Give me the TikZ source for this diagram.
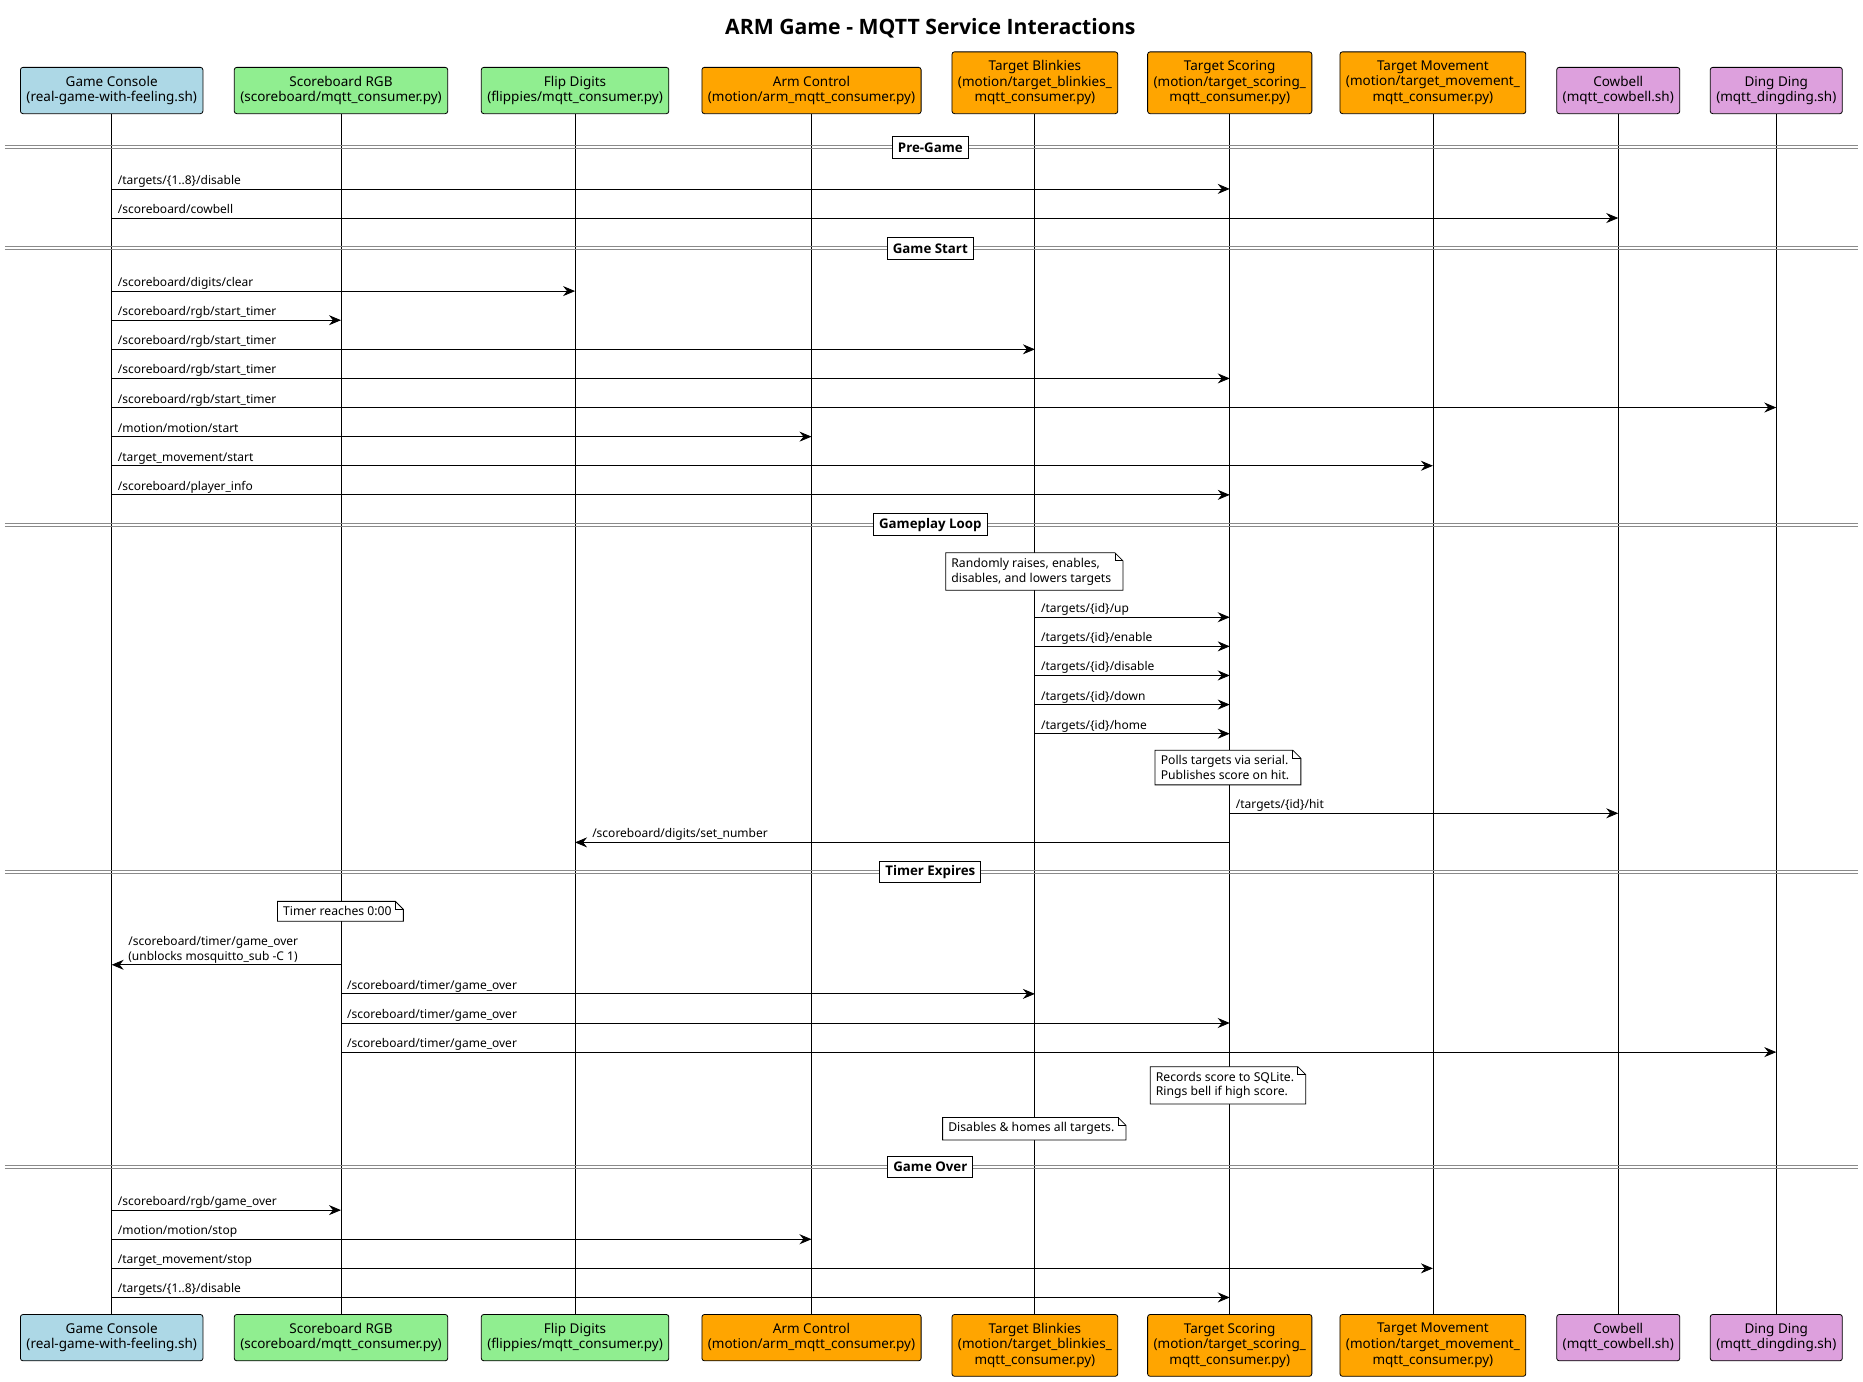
\documentclass[tikz,border=0pt]{standalone}
\usepackage{fontspec}
\setmainfont{Noto Sans}[Ligatures=NoCommon]
\newfontfamily\boldsans{Open Sans}[Ligatures=NoCommon]
\usetikzlibrary{arrows.meta}
\pgfdeclarelayer{bgfill}
\pgfdeclarelayer{back}
\pgfdeclarelayer{notes}
\pgfsetlayers{bgfill,back,notes,main}
\definecolor{cBlue}{HTML}{ADD8E6}
\definecolor{cGreen}{HTML}{90EE90}
\definecolor{cOrange}{HTML}{FFA500}
\definecolor{cPlum}{HTML}{DDA0DD}
\definecolor{cDiv}{HTML}{8A8A8A}
\newcommand\msgR[4]{%
  \draw[msg] (#1 |- 0,#3) -- (#2 |- 0,#3);
  \node[lbl, xshift=6pt, yshift=4.5pt] at (#1 |- 0,#3) {#4};}
\newcommand\msgL[4]{%
  \draw[msg] (#1 |- 0,#3) -- (#2 |- 0,#3);
  \node[lbl, xshift=17pt, yshift=4.5pt] at (#2 |- 0,#3) {#4};}
\newcommand\divider[3]{%
  \begin{pgfonlayer}{back}
  \draw[divline] (4,{#2-1.25}) -- (1564,{#2-1.25});
  \draw[divline] (4,{#2+1.25}) -- (1564,{#2+1.25});
  \end{pgfonlayer}
  \node[divlbl] (#1) at (783,#2) {#3};}
\newcommand\mknote[4]{%
  \node[notebox] (#1) at (#2,#3) {#4};
  \begin{pgfonlayer}{notes}
  \filldraw[thinl, fill=white] (#1.south west) -- (#1.north west) -- ([xshift=-2pt]#1.north east)
    -- ([xshift=6pt,yshift=-8pt]#1.north east) -- ([xshift=6pt]#1.south east) -- cycle;
  \draw[thinl] ([xshift=-2pt]#1.north east) -- ([xshift=-2pt,yshift=-8pt]#1.north east)
    -- ([xshift=6pt,yshift=-8pt]#1.north east);
  \end{pgfonlayer}}
\begin{document}
\begin{tikzpicture}[x=1.1881pt,y=-1.1881pt,
  part/.style={draw=black, line width=0.8pt, rounded corners=2.5pt, align=center,
    font=\fontsize{13.5}{15.6}\selectfont, inner xsep=6pt, inner ysep=0pt,
    execute at begin node={\rule{0pt}{13.2pt}}},
  part2/.style={part, minimum height=46.3pt},
  part3/.style={part, minimum height=61.8pt},
  life/.style={line width=0.8pt},
  thinl/.style={line width=0.8pt},
  msg/.style={line width=0.8pt, -{Stealth[length=12pt,width=10pt,inset=4pt]}},
  lbl/.style={font=\fontsize{12}{14.4}\selectfont, inner sep=0pt, anchor=base west},
  divline/.style={cDiv, line width=0.9pt},
  divlbl/.style={draw=black, fill=white, line width=0.8pt, font=\boldsans\bfseries\fontsize{13.3}{15}\selectfont,
    inner xsep=5.5pt, inner ysep=0pt, minimum height=21.5pt},
  notebox/.style={align=left, font=\fontsize{12.2}{14.8}\selectfont,
    inner xsep=5.5pt, inner ysep=5pt}]
\useasboundingbox (0,0) rectangle (1568,1163);
\begin{pgfonlayer}{bgfill}
\fill[white] (0,0) rectangle (1568,1163);
\end{pgfonlayer}

\node[font=\boldsans\bfseries\fontsize{21.2}{24}\selectfont] (title) at (783,23.5) {ARM Game - MQTT Service Interactions};

% top participants
\node[part2, fill=cBlue, anchor=south] (gcT) at (94,96) {Game Console\\(real-game-with-feeling.sh)};
\node[part2, fill=cGreen, anchor=south] (rgbT) at (287,96) {Scoreboard RGB\\(scoreboard/mqtt\_consumer.py)};
\node[part2, fill=cGreen, anchor=south] (fdT) at (484,96) {Flip Digits\\(flippies/mqtt\_consumer.py)};
\node[part2, fill=cOrange, anchor=south] (acT) at (683,96) {Arm Control\\(motion/arm\_mqtt\_consumer.py)};
\node[part3, fill=cOrange, anchor=south] (tbT) at (871,96) {Target Blinkies\\(motion/target\_blinkies\_\\mqtt\_consumer.py)};
\node[part3, fill=cOrange, anchor=south] (tsT) at (1035,96) {Target Scoring\\(motion/target\_scoring\_\\mqtt\_consumer.py)};
\node[part3, fill=cOrange, anchor=south] (tmT) at (1206,96) {Target Movement\\(motion/target\_movement\_\\mqtt\_consumer.py)};
\node[part2, fill=cPlum, anchor=south] (cbT) at (1362,96) {Cowbell\\(mqtt\_cowbell.sh)};
\node[part2, fill=cPlum, anchor=south] (ddT) at (1495,96) {Ding Ding\\(mqtt\_dingding.sh)};

% bottom participants
\node[part2, fill=cBlue, anchor=north] (gcB) at (94,1106) {Game Console\\(real-game-with-feeling.sh)};
\node[part2, fill=cGreen, anchor=north] (rgbB) at (287,1106) {Scoreboard RGB\\(scoreboard/mqtt\_consumer.py)};
\node[part2, fill=cGreen, anchor=north] (fdB) at (484,1106) {Flip Digits\\(flippies/mqtt\_consumer.py)};
\node[part2, fill=cOrange, anchor=north] (acB) at (683,1106) {Arm Control\\(motion/arm\_mqtt\_consumer.py)};
\node[part3, fill=cOrange, anchor=north] (tbB) at (871,1106) {Target Blinkies\\(motion/target\_blinkies\_\\mqtt\_consumer.py)};
\node[part3, fill=cOrange, anchor=north] (tsB) at (1035,1106) {Target Scoring\\(motion/target\_scoring\_\\mqtt\_consumer.py)};
\node[part3, fill=cOrange, anchor=north] (tmB) at (1206,1106) {Target Movement\\(motion/target\_movement\_\\mqtt\_consumer.py)};
\node[part2, fill=cPlum, anchor=north] (cbB) at (1362,1106) {Cowbell\\(mqtt\_cowbell.sh)};
\node[part2, fill=cPlum, anchor=north] (ddB) at (1495,1106) {Ding Ding\\(mqtt\_dingding.sh)};

% lifelines
\begin{pgfonlayer}{back}
\foreach \p in {gc,rgb,fd,ac,tb,ts,tm,cb,dd}{\draw[life] (\p T) -- (\p B);}
\end{pgfonlayer}

% dividers
\divider{dPre}{124}{Pre-Game}
\divider{dStart}{209}{Game Start}
\divider{dLoop}{441.5}{Gameplay Loop}
\divider{dTimer}{734}{Timer Expires}
\divider{dOver}{982}{Game Over}

% Pre-Game
\msgR{gcT}{tsT}{159}{/targets/\{1..8\}/disable}
\msgR{gcT}{cbT}{183.5}{/scoreboard/cowbell}

% Game Start
\msgR{gcT}{fdT}{245}{/scoreboard/digits/clear}
\msgR{gcT}{rgbT}{269.5}{/scoreboard/rgb/start\_timer}
\msgR{gcT}{tbT}{294}{/scoreboard/rgb/start\_timer}
\msgR{gcT}{tsT}{318.5}{/scoreboard/rgb/start\_timer}
\msgR{gcT}{ddT}{343}{/scoreboard/rgb/start\_timer}
\msgR{gcT}{acT}{367.5}{/motion/motion/start}
\msgR{gcT}{tmT}{392}{/target\_movement/start}
\msgR{gcT}{tsT}{416.5}{/scoreboard/player\_info}

% Gameplay Loop
\mknote{nRand}{868}{481}{Randomly raises, enables,\\disables, and lowers targets}
\msgR{tbT}{tsT}{519.5}{/targets/\{id\}/up}
\msgR{tbT}{tsT}{544}{/targets/\{id\}/enable}
\msgR{tbT}{tsT}{568.5}{/targets/\{id\}/disable}
\msgR{tbT}{tsT}{593}{/targets/\{id\}/down}
\msgR{tbT}{tsT}{617.5}{/targets/\{id\}/home}
\mknote{nPoll}{1031}{646}{Polls targets via serial.\\Publishes score on hit.}
\msgR{tsT}{cbT}{684.5}{/targets/\{id\}/hit}
\msgL{tsT}{fdT}{709}{/scoreboard/digits/set\_number}

% Timer Expires
\mknote{nTimer}{284}{767}{Timer reaches 0:00}
\draw[msg] (rgbT |- 0,812) -- (gcT |- 0,812);
\node[lbl, anchor=south west, align=left, xshift=16.5pt, yshift=1.5pt] at (gcT |- 0,812)
  {/scoreboard/timer/game\_over\\(unblocks mosquitto\_sub -C 1)};
\msgR{rgbT}{tbT}{836.5}{/scoreboard/timer/game\_over}
\msgR{rgbT}{tsT}{861}{/scoreboard/timer/game\_over}
\msgR{rgbT}{ddT}{885.5}{/scoreboard/timer/game\_over}
\mknote{nRec}{1031}{913.5}{Records score to SQLite.\\Rings bell if high score.}
\mknote{nDis}{868}{950}{Disables \& homes all targets.}

% Game Over
\msgR{gcT}{rgbT}{1018.5}{/scoreboard/rgb/game\_over}
\msgR{gcT}{acT}{1043}{/motion/motion/stop}
\msgR{gcT}{tmT}{1067.5}{/target\_movement/stop}
\msgR{gcT}{tsT}{1092}{/targets/\{1..8\}/disable}
\end{tikzpicture}
\end{document}
